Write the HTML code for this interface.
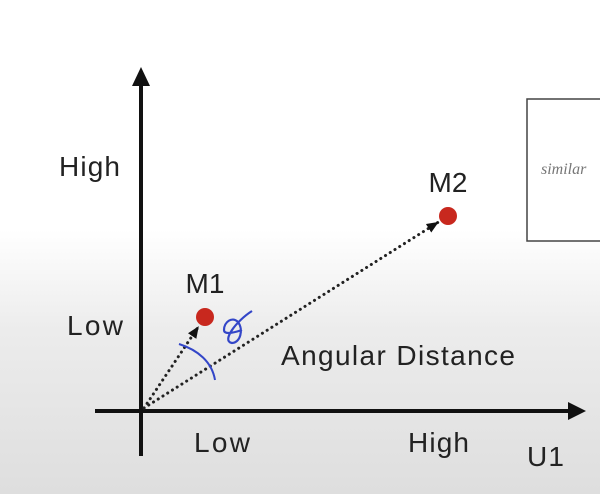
<!DOCTYPE html>
<html><head><meta charset="utf-8"><style>
html,body{margin:0;padding:0;width:600px;height:494px;overflow:hidden}
body{background:linear-gradient(to bottom,#fff 0px,#fff 230px,#ececec 330px,#dedede 494px);font-family:"Liberation Sans",sans-serif}
svg{display:block}
</style></head><body>
<svg id="chart" width="600" height="494" viewBox="0 0 600 494" font-family="Liberation Sans, sans-serif">
<defs>
<marker id="ah" markerUnits="userSpaceOnUse" markerWidth="12" markerHeight="10" refX="11" refY="5" orient="auto"><path d="M0,0 L12,5 L0,10 z" fill="#111"/></marker>
</defs>
<rect x="527" y="99" width="80" height="142" fill="#fff" stroke="#444" stroke-width="1.5"/>
<text x="541" y="174" font-size="16" font-style="italic" fill="#777" style="font-family:'Liberation Serif',serif">similar</text>
<line x1="141" y1="456" x2="141" y2="82" stroke="#111" stroke-width="4"/>
<path d="M132,86 L141,67 L150,86 z" fill="#111"/>
<line x1="95" y1="411" x2="572" y2="411" stroke="#111" stroke-width="4"/>
<path d="M568,402 L586,411 L568,420 z" fill="#111"/>
<text x="59" y="176" font-size="28" textLength="61" fill="#222">High</text>
<text x="67" y="335" font-size="28" textLength="56" fill="#222">Low</text>
<text x="194" y="452" font-size="28" textLength="56" fill="#222">Low</text>
<text x="408" y="452" font-size="28" textLength="61" fill="#222">High</text>
<text x="527" y="466" font-size="28" textLength="37" fill="#222">U1</text>
<text x="281" y="365" font-size="28" textLength="234" fill="#222">Angular Distance</text>
<g id="marks"></g>
<path d="M179,344 C198,350 212,362 215,380" fill="none" stroke="#3346c8" stroke-width="2"/>
<path d="M252,311 C244,316 236,324 232,330 C228,336 226,342 232,343 C240,343 244,330 238,322 C232,316 224,322 224,330 C224,334 230,334 242,330" fill="none" stroke="#3346c8" stroke-width="2.2"/>
</svg>
<script>
const names = ["M1", "M2"];
const xValues = [0.64, 3.07];
const yValues = [0.94, 1.95];
const ox = 141, oy = 411, unit = 100;
function sx(v){ return ox + v * unit; }
function sy(v){ return oy - v * unit; }
const g = document.getElementById('marks');
const NS = 'http://www.w3.org/2000/svg';
names.forEach((n, i) => {
  const px = sx(xValues[i]), py = sy(yValues[i]);
  const dx = px - ox, dy = py - oy, len = Math.hypot(dx, dy);
  const ex = px - dx / len * 12, ey = py - dy / len * 12;
  const line = document.createElementNS(NS, 'line');
  
  
  line.setAttribute('x1', ox + 3); line.setAttribute('y1', oy - 3);
  line.setAttribute('x2', ex); line.setAttribute('y2', ey);
  line.setAttribute('stroke', '#222'); line.setAttribute('stroke-width', '3');
  line.setAttribute('stroke-dasharray', '0.1 5.5'); line.setAttribute('stroke-linecap', 'round');
  line.setAttribute('marker-end', 'url(#ah)');
  g.appendChild(line);
  const c = document.createElementNS(NS, 'circle');
  
  
  c.setAttribute('cx', px); c.setAttribute('cy', py); c.setAttribute('r', 9);
  c.setAttribute('fill', '#c8281e');
  g.appendChild(c);
  const t = document.createElementNS(NS, 'text');
  
  
  t.setAttribute('x', px); t.setAttribute('y', py - 24);
  t.setAttribute('font-size', '28'); t.setAttribute('text-anchor', 'middle'); t.setAttribute('fill', '#222');
  t.textContent = n;
  g.appendChild(t);
});
</script>
</body></html>
